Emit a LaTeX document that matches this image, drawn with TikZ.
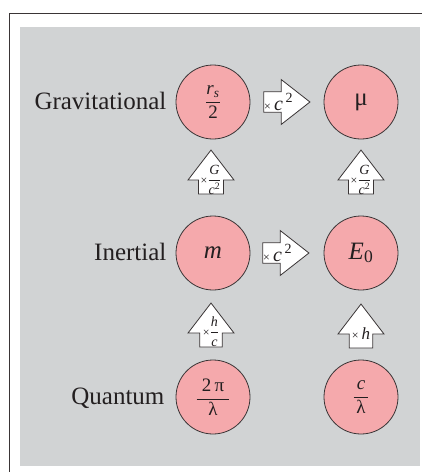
\documentclass[tikz,border=0pt]{standalone}
\usepackage{amsmath}
\usepackage{fontspec}
\setmainfont{Liberation Serif}
\usetikzlibrary{shapes.arrows,positioning}
\definecolor{panel}{HTML}{D1D3D4}
\definecolor{disc}{HTML}{F5A9AC}
\definecolor{rim}{HTML}{3A3536}
\definecolor{ink}{HTML}{231F20}
\newcommand{\tms}{{\fontsize{12}{12}\selectfont ×}}
\newcommand{\tfr}[2]{\smash{\raisebox{-4pt}{\tms$\dfrac{#1}{#2}$}}}

\begin{document}
\begin{tikzpicture}[x=1pt,y=1pt,
  qty/.style={circle,draw=rim,line width=0.8pt,fill=disc,minimum size=74pt,inner sep=0pt,text=ink,font=\fontsize{25}{28}\selectfont},
  qfrac/.style={font=\fontsize{19}{22}\selectfont},
  rowlbl/.style={text=ink,inner sep=0pt,text height=18pt,text depth=4pt,font=\fontsize{25}{28}\selectfont},
  rarr/.style={single arrow,draw=rim,fill=white,line width=0.8pt,inner sep=0pt,text=ink,
    minimum width=45pt,minimum height=44pt,single arrow head extend=10.5pt,single arrow tip angle=76,
    font=\fontsize{20}{21}\selectfont},
  uarr/.style={rarr,shape border rotate=90,minimum width=46pt,single arrow head extend=9pt,single arrow tip angle=75,
    font=\fontsize{14}{15}\selectfont}
]
  \useasboundingbox (0,0) rectangle (422,-472);
  \draw[line width=1pt,rim] (9.5,-472) -- (9.5,-13.5) -- (422,-13.5);
  \fill[panel] (20,-27) rectangle (419.7,-466);

  % the six quantities
  \node[qty,qfrac] (grav) at (213,-102) {$\dfrac{\textit{r}_{\textit{s}}}{\text{2}}$};
  \node[qty] (mu) at (361,-102) {μ};
  \node[qty] (mass) at (213,-253) {\textit{m}};
  \node[qty] (rest) at (361,-253) {$\textit{E}_{\text{0}}$};
  \node[qty,qfrac] (wave) at (213,-397) {$\dfrac{\text{\;2\,π\;}}{\text{λ}}$};
  \node[qty,qfrac] (freq) at (361,-397) {$\dfrac{\text{\,\textit{c}\,}}{\text{λ}}$};

  % row names
  \node[rowlbl,left=9pt of grav] (gravname) {Gravitational};
  \node[rowlbl,left=9pt of mass] (massname) {Inertial};
  \node[rowlbl,left=11pt of wave] (wavename) {Quantum};

  % conversions
  \node[rarr,left=13pt of mu,anchor=tip] (tomu) {\tms\,$\textit{c}^{\,\text{2}}$\,};
  \node[rarr,left=14pt of rest,anchor=tip] (torest) {\tms\,$\textit{c}^{\,\text{2}}$\,};
  \node[uarr,below=10pt of grav,anchor=tip,xshift=-2pt] (togr) {\tfr{\textit{G}}{\textit{c}^{\text{2}}}};
  \node[uarr,below=10pt of mu,anchor=tip] (tomug) {\tfr{\textit{G}}{\textit{c}^{\text{2}}}};
  \node[uarr,below=12pt of mass,anchor=tip,xshift=-2pt] (tomass) {\tfr{\textit{h}}{\textit{c}}};
  \node[uarr,below=13pt of rest,anchor=tip,font=\fontsize{17}{18}\selectfont] (toen) {\tms\,\textit{h}};
\end{tikzpicture}
\end{document}
